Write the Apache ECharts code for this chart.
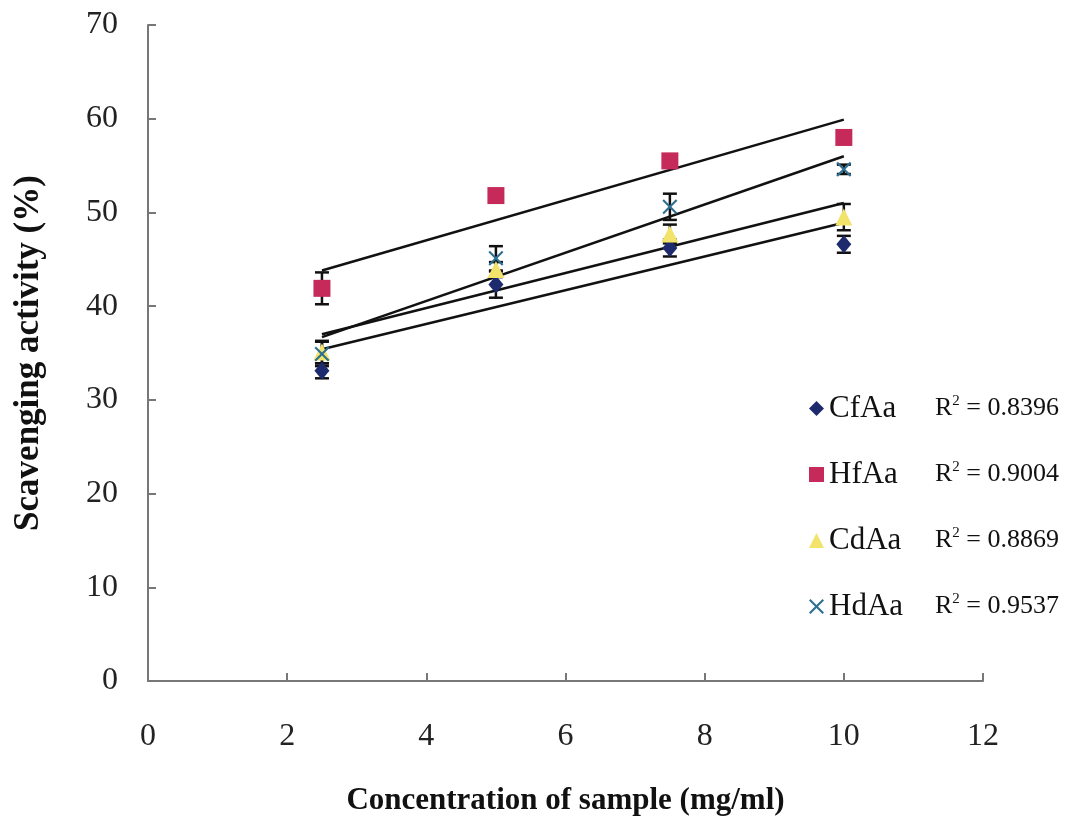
<!DOCTYPE html>
<html>
<head>
<meta charset="utf-8">
<title>Scavenging activity</title>
<script src="https://cdn.jsdelivr.net/npm/echarts@6/dist/echarts.min.js"></script>
<style>
  html, body { margin: 0; padding: 0; background: #fff; }
  #chart { width: 1066px; height: 819px; }
</style>
</head>
<body>
<div id="chart"></div>
<script>
// concentration of sample (mg/ml)
var conc = [2.5, 5, 7.5, 10];

// scavenging activity (%) for each sample
var cfAa = [33.1, 42.3, 46.2, 46.6];
var hfAa = [41.9, 51.8, 55.5, 58.0];
var cdAa = [35.1, 43.9, 47.7, 49.5];
var hdAa = [34.9, 45.1, 50.6, 54.6];

// error bar half-widths
var cfAaErr = [0.8, 1.4, 0.9, 0.9];
var hfAaErr = [1.7, 0.3, 0.7, 0.5];
var cdAaErr = [1.2, 0.8, 1.0, 1.4];
var hdAaErr = [1.3, 1.3, 1.4, 0.5];

// linear trend lines, value at first and last concentration
var trendX = [2.5, 10];
var cfAaFit = [35.4, 48.9];
var hfAaFit = [43.8, 59.9];
var cdAaFit = [37.0, 51.0];
var hdAaFit = [36.7, 56.0];

// r squared, shown in legend
var names = ["CfAa", "HfAa", "CdAa", "HdAa"];
var r2 = ["0.8396", "0.9004", "0.8869", "0.9537"];

var xTicks = [0, 2, 4, 6, 8, 10, 12];
var yTicks = [0, 10, 20, 30, 40, 50, 60, 70];

!(function(echarts) {
  var serif = '"Liberation Serif", "Times New Roman", serif';
  var crossPath = "path://M0,1 L1,0 L5,4 L9,0 L10,1 L6,5 L10,9 L9,10 L5,6 L1,10 L0,9 L4,5 Z";

  var groups = [
    { name: "CfAa", vals: cfAa, err: cfAaErr, fit: cfAaFit, color: "#1d2a6e", symbol: "diamond", size: [15, 18] },
    { name: "HfAa", vals: hfAa, err: hfAaErr, fit: hfAaFit, color: "#c62a5a", symbol: "rect", size: 17 },
    { name: "CdAa", vals: cdAa, err: cdAaErr, fit: cdAaFit, color: "#f2e36a", symbol: "triangle", size: 17 },
    { name: "HdAa", vals: hdAa, err: hdAaErr, fit: hdAaFit, color: "#2e6f92", symbol: crossPath, size: 15 }
  ];

  function pairs(xs, ys) {
    return xs.map(function(x, i) { return [x, ys[i]]; });
  }

  function errorBar(params, api) {
    var x = api.value(0);
    var top = api.coord([x, api.value(2)]);
    var bot = api.coord([x, api.value(1)]);
    var half = 7;
    var style = { stroke: "#111", lineWidth: 2.5 };
    return {
      type: "group",
      children: [
        { type: "line", shape: { x1: top[0], y1: top[1], x2: bot[0], y2: bot[1] }, style: style },
        { type: "line", shape: { x1: top[0] - half, y1: top[1], x2: top[0] + half, y2: top[1] }, style: style },
        { type: "line", shape: { x1: bot[0] - half, y1: bot[1], x2: bot[0] + half, y2: bot[1] }, style: style }
      ]
    };
  }

  var series = [];
  groups.forEach(function(g) {
    series.push({
      name: g.name + " fit",
      type: "line",
      data: pairs(trendX, g.fit),
      symbol: "none",
      lineStyle: { color: "#111", width: 2.5 },
      z: 3,
      silent: true
    });
    series.push({
      name: g.name + " err",
      type: "custom",
      renderItem: errorBar,
      data: conc.map(function(x, i) {
        return [x, g.vals[i] - g.err[i], g.vals[i] + g.err[i]];
      }),
      encode: { x: 0, y: [1, 2] },
      z: 4,
      silent: true
    });
    series.push({
      name: g.name,
      type: "scatter",
      data: pairs(conc, g.vals),
      symbol: g.symbol,
      symbolSize: g.size,
      itemStyle: { color: g.color, opacity: 1 },
      z: 5
    });
  });

  var myChart = echarts.init(document.getElementById("chart"));
  myChart.setOption({
    backgroundColor: "#fff",
    animation: false,
    textStyle: { fontFamily: serif },
    grid: { left: 148, right: 83, top: 25, bottom: 138, outerBoundsMode: "none", containLabel: false },
    xAxis: {
      type: "value",
      min: xTicks[0],
      max: xTicks[xTicks.length - 1],
      interval: 2,
      name: "Concentration of sample (mg/ml)",
      nameLocation: "middle",
      nameGap: 104,
      nameTextStyle: { fontFamily: serif, fontSize: 31, fontWeight: "bold", color: "#111" },
      axisLine: { lineStyle: { color: "#777", width: 2 } },
      axisTick: { inside: true, length: 8, lineStyle: { color: "#777", width: 2 } },
      axisLabel: { margin: 40, fontSize: 32, color: "#222", fontFamily: serif },
      splitLine: { show: false }
    },
    yAxis: {
      type: "value",
      min: yTicks[0],
      max: yTicks[yTicks.length - 1],
      interval: 10,
      name: "Scavenging activity (%)",
      nameLocation: "middle",
      nameGap: 102,
      nameTextStyle: { fontFamily: serif, fontSize: 35, fontWeight: "bold", color: "#111" },
      axisLine: { show: true, lineStyle: { color: "#777", width: 2 } },
      axisTick: { show: true, inside: true, length: 8, lineStyle: { color: "#777", width: 2 } },
      axisLabel: { margin: 30, fontSize: 32, color: "#222", fontFamily: serif },
      splitLine: { show: false }
    },
    legend: {
      data: names,
      orient: "vertical",
      left: 804,
      top: 388,
      itemWidth: 15,
      itemHeight: 15,
      itemGap: 35,
      selectedMode: false,
      formatter: function(name) {
        var i = names.indexOf(name);
        return "{n|" + name + "}{r|R}{s|2}{v| = " + r2[i] + "}";
      },
      textStyle: {
        fontFamily: serif,
        color: "#111",
        rich: {
          n: { fontFamily: serif, fontSize: 31, color: "#111", width: 106 },
          r: { fontFamily: serif, fontSize: 26, color: "#111" },
          s: { fontFamily: serif, fontSize: 15, color: "#111", padding: [0, 0, 15, 0] },
          v: { fontFamily: serif, fontSize: 26, color: "#111" }
        }
      }
    },
    series: series
  });
})(window.echarts);
</script>
</body>
</html>
